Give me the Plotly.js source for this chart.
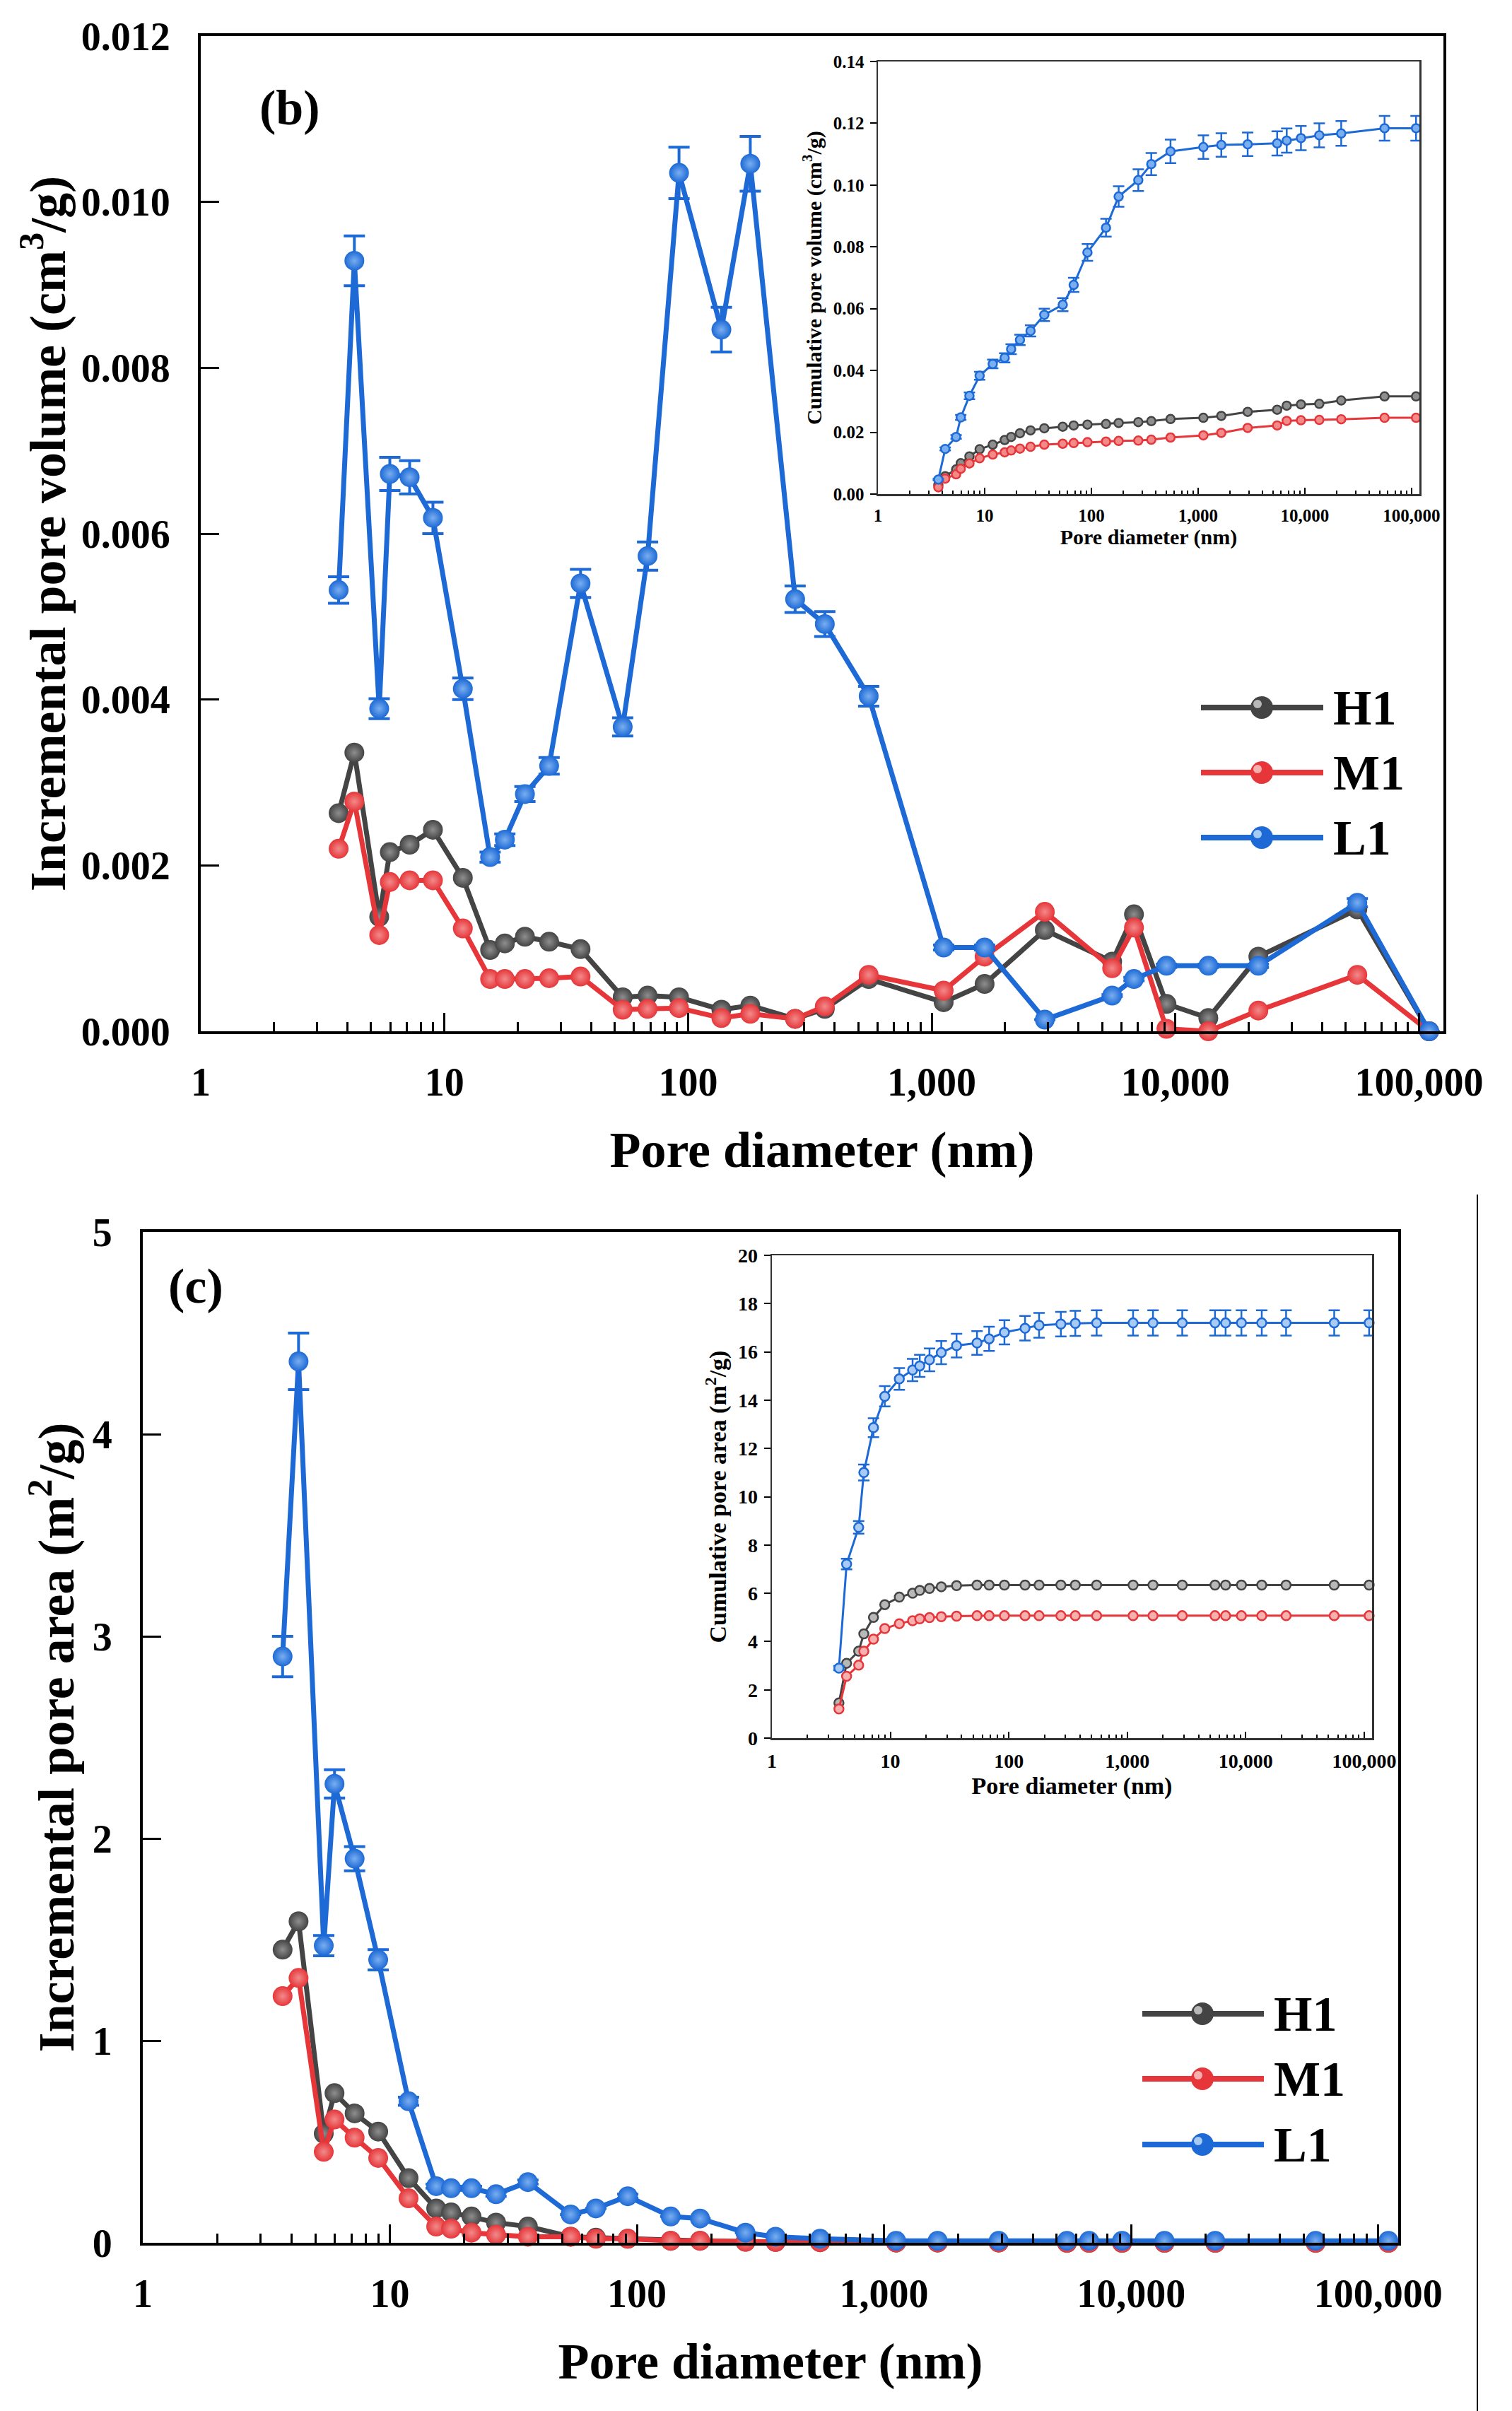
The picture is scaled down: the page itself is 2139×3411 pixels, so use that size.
<!DOCTYPE html>
<html>
<head>
<meta charset="utf-8">
<script src="https://cdn.plot.ly/plotly-3.0.1.min.js"></script>
<style>html,body{margin:0;padding:0;background:#fff;}#chart{width:2139px;height:3411px;}</style>
</head>
<body>
<div id="chart"></div>
<script>
// ---------------- DATA ----------------
const poreDiameter = [3.68, 4.27, 5.4, 5.97, 7.2, 8.97, 11.9, 15.4, 17.7, 21.4, 26.9, 36.2, 53.9, 68.2, 91.8, 137, 180, 275, 364, 551, 1119, 1648, 2911, 5500, 6760, 9190, 13650, 21900, 55800, 110000];

// (b) incremental pore volume (cm3/g)
const volH1 = [0.00263, 0.00336, 0.00138, 0.00216, 0.00225, 0.00243, 0.00185, 0.00098, 0.00106, 0.00114, 0.00108, 0.00099, 0.00041, 0.00043, 0.00041, 0.00026, 0.00031, 0.00015, 0.00027, 0.00063, 0.00035, 0.00057, 0.00122, 0.00084, 0.00141, 0.00033, 0.00016, 0.00090, 0.00147, 0.00000];
const volM1 = [0.00220, 0.00277, 0.00116, 0.00180, 0.00182, 0.00182, 0.00124, 0.00063, 0.00063, 0.00063, 0.00064, 0.00066, 0.00026, 0.00027, 0.00028, 0.00016, 0.00021, 0.00015, 0.00030, 0.00068, 0.00049, 0.00090, 0.00144, 0.00076, 0.00125, 0.00003, 0.00000, 0.00025, 0.00068, 0.00000];
const volL1 = [0.00532, 0.00929, 0.00389, 0.00672, 0.00668, 0.00619, 0.00413, 0.00210, 0.00231, 0.00286, 0.00320, 0.00540, 0.00367, 0.00573, 0.01035, 0.00846, 0.01046, 0.00521, 0.00491, 0.00404, 0.00101, 0.00101, 0.00014, 0.00043, 0.00063, 0.00079, 0.00079, 0.00079, 0.00155, 0.00000];
const volL1Err = [0.00016, 0.00030, 0.00012, 0.00020, 0.00020, 0.00019, 0.00013, 0.00006, 0.00007, 0.00009, 0.00010, 0.00017, 0.00011, 0.00017, 0.00031, 0.00027, 0.00033, 0.00016, 0.00015, 0.00012, 0.00003, 0.00003, 0.00000, 0.00001, 0.00002, 0.00002, 0.00002, 0.00002, 0.00005, 0.00000];

// (b) inset: cumulative pore volume (cm3/g)
const cumVolH1 = [0.0030, 0.0058, 0.0080, 0.0100, 0.0122, 0.0145, 0.0160, 0.0175, 0.0185, 0.0197, 0.0206, 0.0213, 0.0218, 0.0222, 0.0225, 0.0227, 0.0230, 0.0233, 0.0236, 0.0243, 0.0247, 0.0253, 0.0266, 0.0273, 0.0286, 0.0290, 0.0292, 0.0303, 0.0316, 0.0316];
const cumVolM1 = [0.0022, 0.0050, 0.0064, 0.0082, 0.0099, 0.0116, 0.0128, 0.0135, 0.0141, 0.0147, 0.0153, 0.0160, 0.0163, 0.0165, 0.0168, 0.0170, 0.0172, 0.0173, 0.0176, 0.0183, 0.0190, 0.0198, 0.0214, 0.0222, 0.0237, 0.0239, 0.0240, 0.0242, 0.0247, 0.0247];
const cumVolL1 = [0.0047, 0.0146, 0.0185, 0.0248, 0.0318, 0.0383, 0.0421, 0.0441, 0.0469, 0.0499, 0.0528, 0.0580, 0.0613, 0.0677, 0.0782, 0.0862, 0.0963, 0.1016, 0.1068, 0.1109, 0.1123, 0.1130, 0.1132, 0.1135, 0.1144, 0.1152, 0.1161, 0.1167, 0.1184, 0.1184];
const cumVolL1Err = [0.0002, 0.0005, 0.0006, 0.0008, 0.0011, 0.0013, 0.0014, 0.0015, 0.0016, 0.0017, 0.0018, 0.0020, 0.0021, 0.0023, 0.0027, 0.0029, 0.0033, 0.0035, 0.0036, 0.0038, 0.0038, 0.0038, 0.0038, 0.0039, 0.0039, 0.0039, 0.0039, 0.0040, 0.0040, 0.0040];

// (c) incremental pore area (m2/g)
const areaH1 = [1.45, 1.59, 0.54, 0.74, 0.64, 0.55, 0.32, 0.17, 0.15, 0.13, 0.10, 0.08, 0.03, 0.025, 0.02, 0.01, 0.01, 0.005, 0.004, 0.003, 0.001, 0.001, 0.001, 0, 0, 0, 0, 0, 0, 0];
const areaM1 = [1.22, 1.31, 0.45, 0.61, 0.52, 0.42, 0.22, 0.08, 0.07, 0.05, 0.04, 0.03, 0.03, 0.02, 0.02, 0.01, 0.01, 0.005, 0.004, 0.003, 0.001, 0.001, 0.001, 0, 0, 0, 0, 0, 0, 0];
const areaL1 = [2.90, 4.36, 1.47, 2.27, 1.90, 1.40, 0.70, 0.28, 0.27, 0.27, 0.24, 0.30, 0.14, 0.17, 0.23, 0.13, 0.12, 0.05, 0.03, 0.02, 0.01, 0.01, 0.01, 0.01, 0.01, 0.01, 0.01, 0.01, 0.01, 0.01];
const areaL1Err = [0.10, 0.14, 0.05, 0.07, 0.06, 0.05, 0.02, 0.01, 0.01, 0.01, 0.01, 0.01, 0, 0, 0.01, 0, 0, 0, 0, 0, 0, 0, 0, 0, 0, 0, 0, 0, 0, 0];

// (c) inset: cumulative pore area (m2/g)
const cumAreaH1 = [1.46, 3.10, 3.60, 4.32, 5.00, 5.53, 5.84, 6.00, 6.12, 6.20, 6.27, 6.32, 6.34, 6.34, 6.34, 6.34, 6.34, 6.34, 6.34, 6.34, 6.34, 6.34, 6.34, 6.34, 6.34, 6.34, 6.34, 6.34, 6.34, 6.34];
const cumAreaM1 = [1.21, 2.56, 3.02, 3.60, 4.10, 4.54, 4.74, 4.86, 4.94, 4.99, 5.03, 5.05, 5.07, 5.07, 5.07, 5.07, 5.07, 5.07, 5.07, 5.07, 5.07, 5.07, 5.07, 5.07, 5.07, 5.07, 5.07, 5.07, 5.07, 5.07];
const cumAreaL1 = [2.90, 7.21, 8.73, 11.00, 12.86, 14.16, 14.88, 15.25, 15.42, 15.67, 15.97, 16.26, 16.37, 16.54, 16.81, 16.98, 17.10, 17.15, 17.18, 17.20, 17.20, 17.20, 17.20, 17.20, 17.20, 17.20, 17.20, 17.20, 17.20, 17.20];
const cumAreaL1Err = [0.09, 0.22, 0.26, 0.33, 0.39, 0.42, 0.45, 0.46, 0.46, 0.47, 0.48, 0.49, 0.49, 0.50, 0.50, 0.51, 0.51, 0.51, 0.52, 0.52, 0.52, 0.52, 0.52, 0.52, 0.52, 0.52, 0.52, 0.52, 0.52, 0.52];

const seriesNames = ["H1", "M1", "L1"];
const logTickVals = [1, 10, 100, 1000, 10000, 100000];
const logTickText = ["1", "10", "100", "1,000", "10,000", "100,000"];

// ---------------- STYLE ----------------
const W = 2139, H = 3411;
const FONT = "Liberation Serif, 'Times New Roman', serif";
const COL = {H1: "#444444", M1: "#e6363a", L1: "#1d6ad6"};
const HI = {H1: "#8e8e8e", M1: "#f28a8a", L1: "#79aef0"};
const OPEN = {H1: "#b8b8b8", M1: "#f6b0b0", L1: "#a8cbf5"};

const minorVals = [];
for (let e = 0; e < 6; e++) for (let k = 2; k <= 9; k++) minorVals.push(k * Math.pow(10, e));

function dx(a, b) { return [a / W, b / W]; }
function dy(top, bottom) { return [1 - bottom / H, 1 - top / H]; }

function mainTrace(name, y, xa, ya, err) {
  const t = {
    x: poreDiameter, y: y, name: name, xaxis: xa, yaxis: ya, type: "scatter", mode: "lines+markers",
    showlegend: false, cliponaxis: false,
    line: {color: COL[name], width: 7},
    marker: {size: 28, color: COL[name], gradient: {type: "radial", color: HI[name]}, line: {width: 0}}
  };
  if (err) t.error_y = {type: "data", array: err, visible: true, color: COL[name], thickness: 4, width: 15};
  return t;
}
function insetTrace(name, y, xa, ya, err, msize, fill) {
  const t = {
    x: poreDiameter, y: y, name: name, xaxis: xa, yaxis: ya, type: "scatter", mode: "lines+markers",
    showlegend: false, cliponaxis: false,
    line: {color: COL[name], width: 3},
    marker: {size: msize, color: fill[name], line: {color: COL[name], width: 2.5}}
  };
  if (err) t.error_y = {type: "data", array: err, visible: true, color: COL[name], thickness: 2.5, width: 8};
  return t;
}

const traces = [
  mainTrace("H1", volH1, "x", "y"),
  mainTrace("M1", volM1, "x", "y"),
  mainTrace("L1", volL1, "x", "y", volL1Err),
  insetTrace("H1", cumVolH1, "x2", "y2", null, 12, HI),
  insetTrace("M1", cumVolM1, "x2", "y2", null, 12, HI),
  insetTrace("L1", cumVolL1, "x2", "y2", cumVolL1Err, 12, HI),
  mainTrace("H1", areaH1, "x3", "y3"),
  mainTrace("M1", areaM1, "x3", "y3"),
  mainTrace("L1", areaL1, "x3", "y3", areaL1Err),
  insetTrace("H1", cumAreaH1, "x4", "y4", null, 13, OPEN),
  insetTrace("M1", cumAreaM1, "x4", "y4", null, 13, OPEN),
  insetTrace("L1", cumAreaL1, "x4", "y4", cumAreaL1Err, 13, OPEN)
];

function f(size) { return {family: FONT, size: size, color: "#000", weight: "bold"}; }

function logAxis(domain, anchor, range, o) {
  return {
    type: "log", domain: domain, anchor: anchor, range: range,
    tickmode: "array", tickvals: logTickVals, ticktext: logTickText,
    ticks: "inside", ticklen: o.tl, tickwidth: o.tw, tickcolor: "#000",
    minor: {tickmode: "array", tickvals: minorVals, ticks: "inside", ticklen: o.mtl, tickwidth: o.tw, tickcolor: "#000", showgrid: false},
    showline: true, linewidth: o.lw, linecolor: o.lc, mirror: true,
    showgrid: false, zeroline: false,
    tickfont: f(o.tf), ticklabelstandoff: o.ls,
    title: {text: "Pore diameter (nm)", font: f(o.ttf), standoff: o.ts}
  };
}
function linAxis(domain, anchor, range, dtick, fmt, title, o) {
  return {
    domain: domain, anchor: anchor, range: range, dtick: dtick, tick0: 0, tickformat: fmt,
    ticks: o.ticks, ticklen: o.tl, tickwidth: o.tw, tickcolor: "#000",
    showline: true, linewidth: o.lw, linecolor: o.lc, mirror: true,
    showgrid: false, zeroline: false,
    tickfont: f(o.tf), ticklabelstandoff: o.ls,
    title: {text: title, font: f(o.ttf), standoff: o.ts}
  };
}

const layout = {
  width: W, height: H,
  margin: {l: 0, r: 0, t: 0, b: 0, pad: 0},
  paper_bgcolor: "#fff", plot_bgcolor: "rgba(0,0,0,0)",
  showlegend: false,
  xaxis: logAxis(dx(284, 2042), "y", [0, 5.1], {tl: 26, mtl: 13, tw: 3, lw: 4, lc: "#000", tf: 56, ls: 20, ttf: 72, ts: 40}),
  yaxis: linAxis(dy(51, 1459), "x", [0, 0.012], 0.002, ".3f", "Incremental pore volume (cm<sup>3</sup>/g)",
    {ticks: "inside", tl: 26, tw: 3, lw: 4, lc: "#000", tf: 56, ls: 28, ttf: 72, ts: 0}),
  xaxis2: logAxis(dx(1242, 2008), "y2", [0, 5.073], {tl: 9, mtl: 5, tw: 2, lw: 2.5, lc: "#333", tf: 25, ls: 6, ttf: 30, ts: 8}),
  yaxis2: linAxis(dy(87, 699), "x2", [0, 0.14], 0.02, ".2f", "Cumulative pore volume (cm<sup>3</sup>/g)",
    {ticks: "outside", tl: 9, tw: 2, lw: 2.5, lc: "#333", tf: 25, ls: 3, ttf: 30, ts: 8}),
  xaxis3: logAxis(dx(202, 1978), "y3", [0, 5.081], {tl: 26, mtl: 13, tw: 3, lw: 4, lc: "#000", tf: 56, ls: 20, ttf: 72, ts: 40}),
  yaxis3: linAxis(dy(1743, 3173), "x3", [0, 5], 1, "d", "Incremental pore area (m<sup>2</sup>/g)",
    {ticks: "inside", tl: 26, tw: 3, lw: 4, lc: "#000", tf: 56, ls: 28, ttf: 72, ts: 4}),
  xaxis4: logAxis(dx(1092, 1941), "y4", [0, 5.066], {tl: 9, mtl: 5, tw: 2, lw: 2.5, lc: "#333", tf: 28, ls: 6, ttf: 34, ts: 8}),
  yaxis4: linAxis(dy(1776, 2459), "x4", [0, 20], 2, "d", "Cumulative pore area (m<sup>2</sup>/g)",
    {ticks: "outside", tl: 9, tw: 2, lw: 2.5, lc: "#333", tf: 28, ls: 3, ttf: 34, ts: 6}),
  shapes: [
    {type: "rect", xref: "paper", yref: "paper", x0: 1242 / W, x1: 2008 / W, y0: 1 - 699 / H, y1: 1 - 87 / H, fillcolor: "#fff", line: {width: 0}, layer: "below"},
    {type: "rect", xref: "paper", yref: "paper", x0: 1092 / W, x1: 1941 / W, y0: 1 - 2459 / H, y1: 1 - 1776 / H, fillcolor: "#fff", line: {width: 0}, layer: "below"},
    {type: "line", xref: "paper", yref: "paper", x0: 2090 / W, x1: 2090 / W, y0: 0, y1: 1 - 1690 / H, line: {color: "#000", width: 2}}
  ],
  annotations: [
    {text: "(b)", xref: "paper", yref: "paper", x: 410 / W, y: 1 - 153 / H, xanchor: "center", yanchor: "middle", showarrow: false, font: f(70)},
    {text: "(c)", xref: "paper", yref: "paper", x: 277 / W, y: 1 - 1819 / H, xanchor: "center", yanchor: "middle", showarrow: false, font: f(70)}
  ]
};

// custom legends (long line with a marker in the middle)
function addLegend(x0, x1, xm, xt, rows) {
  seriesNames.forEach(function (name, i) {
    const yy = 1 - rows[i] / H;
    layout.shapes.push({type: "line", xref: "paper", yref: "paper", x0: x0 / W, x1: x1 / W, y0: yy, y1: yy, line: {color: COL[name], width: 8}});
    const r = 16;
    layout.shapes.push({type: "circle", xref: "paper", yref: "paper", x0: (xm - r) / W, x1: (xm + r) / W, y0: 1 - (rows[i] + r) / H, y1: 1 - (rows[i] - r) / H, fillcolor: COL[name], line: {width: 0}});
    const r2 = 6;
    layout.shapes.push({type: "circle", xref: "paper", yref: "paper", x0: (xm - 6 - r2) / W, x1: (xm - 6 + r2) / W, y0: 1 - (rows[i] - 5 + r2) / H, y1: 1 - (rows[i] - 5 - r2) / H, fillcolor: OPEN[name], line: {width: 0}});
    layout.annotations.push({text: name, xref: "paper", yref: "paper", x: xt / W, y: yy, xanchor: "left", yanchor: "middle", showarrow: false, font: f(70)});
  });
}
addLegend(1699, 1872, 1785, 1884, [1001, 1093, 1185]);
addLegend(1616, 1788, 1701, 1800, [2849, 2941, 3034]);

Plotly.newPlot("chart", traces, layout, {staticPlot: true, displayModeBar: false});
</script>
</body>
</html>
